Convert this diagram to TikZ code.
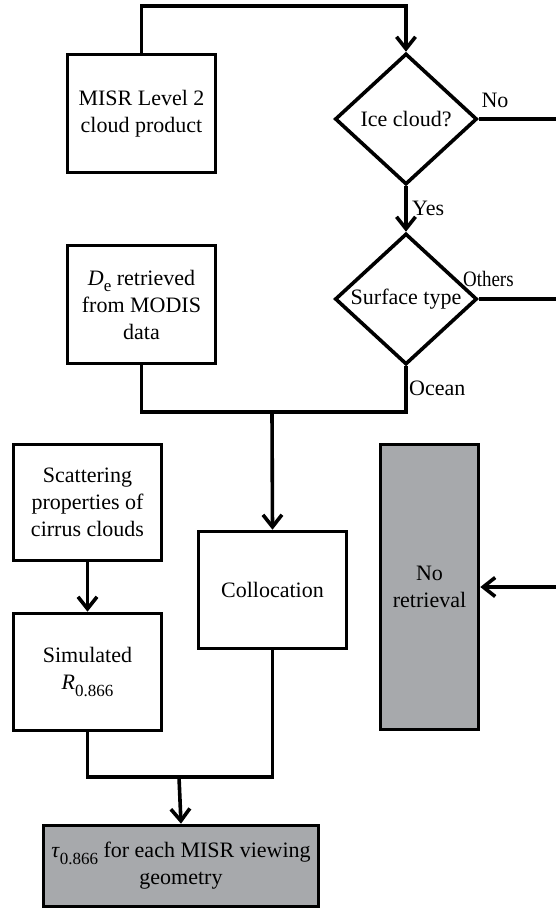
\documentclass[tikz,border=0pt]{standalone}
\usepackage{fontspec}
\setmainfont{Liberation Serif}
\usetikzlibrary{shapes.geometric,arrows.meta}
\newcommand\subs[1]{\raisebox{-0.3em}{\fontsize{17}{17}\selectfont #1}}
\definecolor{boxgray}{RGB}{167,169,172}
\begin{document}
\begin{tikzpicture}[x=1pt,y=-1pt,
  every node/.style={font=\fontsize{22}{27}\selectfont},
  box/.style={draw=black,line width=3.6pt,fill=white,align=center,inner sep=0pt},
  graybox/.style={box,fill=boxgray},
  dec/.style={draw=black,line width=3.6pt,fill=white,diamond,aspect=1.08,inner sep=0pt,align=center},
  conn/.style={line width=3.6pt,line join=miter},
  arr/.style={conn,-{Straight Barb[length=12pt,width=19pt]}},
  lbl/.style={inner sep=0pt}]
\useasboundingbox (0,0) rectangle (556,911);
\clip (0,0) rectangle (556,911);
% nodes
\node[box,minimum width=148pt,minimum height=118pt] (misr) at (141.5,113.5) {MISR Level 2\\cloud product};
\node[dec,minimum width=142pt,minimum height=131pt] (ice) at (406,119) {Ice cloud?};
\node[dec,minimum width=142pt,minimum height=131pt] (surf) at (406,299) {Surface type};
\node[box,minimum width=148pt,minimum height=118pt] (de) at (141.5,304.5) {\textit{D}\subs{e} retrieved\\from MODIS\\data};
\node[box,minimum width=148pt,minimum height=116pt] (scat) at (87.5,502.5) {Scattering\\properties of\\cirrus clouds};
\node[box,minimum width=148pt,minimum height=117pt] (sim) at (87.5,672) {Simulated\\\textit{R}\subs{0.866}};
\node[box,minimum width=148pt,minimum height=117pt] (coll) at (272.5,590) {Collocation};
\node[graybox,minimum width=98pt,minimum height=285pt] (noret) at (429.5,587) {No\\retrieval};
\node[graybox,minimum width=275pt,minimum height=81pt] (final) at (181,866) {\textit{τ}\subs{0.866} for each MISR viewing\\geometry};
% labels
\node[lbl] (lno) at (495,100) {No};
\node[lbl,anchor=west] (lyes) at (412,208) {Yes};
\node[lbl,anchor=west] (loth) at (463,279) {\scalebox{0.86}[1]{Others}};
\node[lbl,anchor=west] (locean) at (409,388) {Ocean};
% helper coordinates
\coordinate (ttop) at (406,6);
\coordinate (rtop) at (557.5,119);
\coordinate (j1) at (272,412);
\coordinate (j2) at (179,777);
% connectors
\draw[arr] (misr.north) |- (ttop) -- (ice.north);
\draw[arr] (ice.south) -- (surf.north);
\draw[arr] (ice.east) -- (rtop) |- (noret.east);
\draw[conn] (surf.east) -- (surf.east -| rtop);
\draw[conn] (de.south) |- (j1) -| (surf.south);
\draw[arr] (j1) -- (coll.north);
\draw[arr] (scat.south) -- (sim.north);
\draw[conn] (sim.south) |- (j2) -| (coll.south);
\draw[arr] (j2) -- (final.north);
\end{tikzpicture}
\end{document}
